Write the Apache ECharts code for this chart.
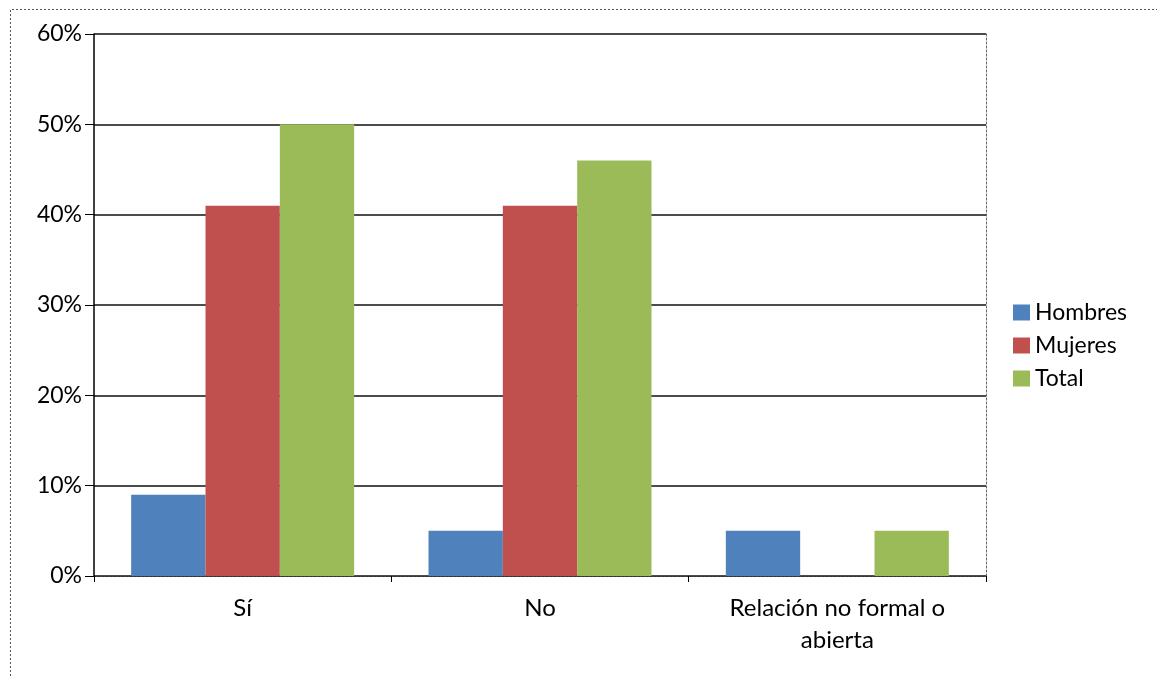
<!DOCTYPE html>
<html>
<head>
<meta charset="utf-8">
<script src="https://cdn.jsdelivr.net/npm/echarts@6/dist/echarts.min.js"></script>
<style>
  html, body { margin: 0; padding: 0; background: #fff; }
  #chart { width: 1157px; height: 677px; }
</style>
</head>
<body>
<div id="chart"></div>
<script>
// Categories and series values (percent)
const categories = ['Sí', 'No', 'Relación no formal o\nabierta'];
const hombres = [9, 5, 5];
const mujeres = [41, 41, 0];
const total = [50, 46, 5];
const seriesNames = ['Hombres', 'Mujeres', 'Total'];
const seriesColors = ['#4F81BD', '#C0504D', '#9BBB59'];

const FONT = 'Lato, "Open Sans", sans-serif';

const chart = echarts.init(document.getElementById('chart'), null, { renderer: 'canvas' });

const barSeries = [hombres, mujeres, total].map((values, i) => ({
  name: seriesNames[i],
  type: 'bar',
  data: values,
  barGap: '0%',
  barCategoryGap: '25%',
  itemStyle: { color: seriesColors[i] },
  emphasis: { disabled: true }
}));

chart.setOption({
  animation: false,
  backgroundColor: '#ffffff',
  textStyle: { fontFamily: FONT },
  grid: { left: 94, right: 171, top: 34, bottom: 101, containLabel: false },
  legend: {
    orient: 'vertical',
    left: 1013,
    top: 301,
    padding: 0,
    icon: 'rect',
    itemWidth: 17,
    itemHeight: 16,
    itemGap: 10,
    textStyle: { fontFamily: FONT, fontSize: 23, lineHeight: 20, color: '#000' },
    data: seriesNames
  },
  xAxis: {
    type: 'category',
    data: categories,
    axisLine: { show: true, lineStyle: { color: '#333', width: 1, type: [2, 2] } },
    axisTick: { show: true, length: 6, lineStyle: { color: '#000', width: 1 } },
    axisLabel: { fontFamily: FONT, fontSize: 24, lineHeight: 32, color: '#000', margin: 16, interval: 0 },
    splitLine: { show: false }
  },
  yAxis: [
    {
      type: 'value',
      min: 0,
      max: 60,
      interval: 10,
      axisLine: { show: true, lineStyle: { color: '#000', width: 1.5 } },
      axisTick: { show: true, length: 9, lineStyle: { color: '#000', width: 1 } },
      axisLabel: { fontFamily: FONT, fontSize: 23, color: '#000', margin: 12, formatter: '{value}%' },
      splitLine: { show: true, lineStyle: { color: '#111', width: 1.5 } }
    },
    {
      type: 'value',
      position: 'right',
      min: 0,
      max: 60,
      interval: 10,
      axisLine: { show: true, lineStyle: { color: '#666', width: 1, type: [2, 2] } },
      axisTick: { show: false },
      axisLabel: { show: false },
      splitLine: { show: false }
    }
  ],
  graphic: [
    {
      type: 'polyline',
      silent: true,
      shape: { points: [[10.5, 700], [10.5, 9.5], [1200, 9.5]] },
      style: { fill: null, stroke: '#555', lineWidth: 1, lineDash: [2, 2] }
    }
  ],
  series: barSeries
});
</script>
</body>
</html>
